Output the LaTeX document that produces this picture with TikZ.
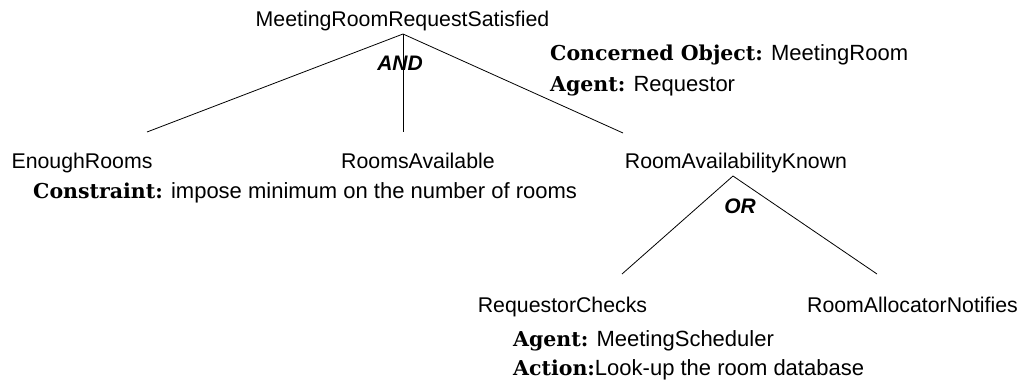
\documentclass[tikz,border=0pt]{standalone}
\usepackage{fontspec}
\setsansfont{Liberation Sans}
\newfontfamily\keyfont{DejaVu Serif}
\begin{document}
\begin{tikzpicture}[x=1pt,y=-1pt,
  lbl/.style={inner sep=0pt,font=\fontsize{21.3}{25}\sffamily},
  goal/.style={lbl,anchor=base},
  note/.style={inner sep=0pt,anchor=base west,font=\fontsize{22}{26}\sffamily},
  refine/.style={lbl,anchor=base,font=\fontsize{21}{25}\sffamily\bfseries\itshape},
  link/.style={draw=black,line width=0.8pt}]
\useasboundingbox (0,0) rectangle (1027,391);
\newcommand{\keyw}[1]{{\fontsize{20.5}{24}\keyfont\bfseries #1}}
% goals
\node[goal] (root) at (402.5,26) {MeetingRoomRequestSatisfied};
\node[goal] (enough) at (82,168) {EnoughRooms};
\node[goal] (avail) at (418,168) {RoomsAvailable};
\node[goal] (known) at (736,168) {RoomAvailabilityKnown};
\node[goal] (checks) at (562.5,312) {RequestorChecks};
\node[goal] (notifies) at (912.5,312) {RoomAllocatorNotifies};
% refinement labels
\node[refine] (and) at (400,70) {AND};
\node[refine] (or) at (740,213) {OR};
% annotations
\node[note] (co) at (550,60) {\keyw{Concerned Object:} MeetingRoom};
\node[note] (ag1) at (550,91) {\keyw{Agent:} Requestor};
\node[note] (cons) at (33,198) {\keyw{Constraint:} impose minimum on the number of rooms};
\node[note] (ag2) at (513,346) {\keyw{Agent:} MeetingScheduler};
\node[note] (act) at (513,375) {\keyw{Action:}Look-up the room database};
% connector end points
\coordinate (rootapex) at (403,34);
\coordinate (enoughtop) at (147,132);
\coordinate (availtop) at (403,132);
\coordinate (knowntop) at (623,133);
\coordinate (knownapex) at (733,176);
\coordinate (checkstop) at (622,274);
\coordinate (notifiestop) at (877,274);
% connectors
\draw[link] (rootapex) -- (enoughtop);
\draw[link] (rootapex) -- (availtop);
\draw[link] (rootapex) -- (knowntop);
\draw[link] (knownapex) -- (checkstop);
\draw[link] (knownapex) -- (notifiestop);
\end{tikzpicture}
\end{document}
